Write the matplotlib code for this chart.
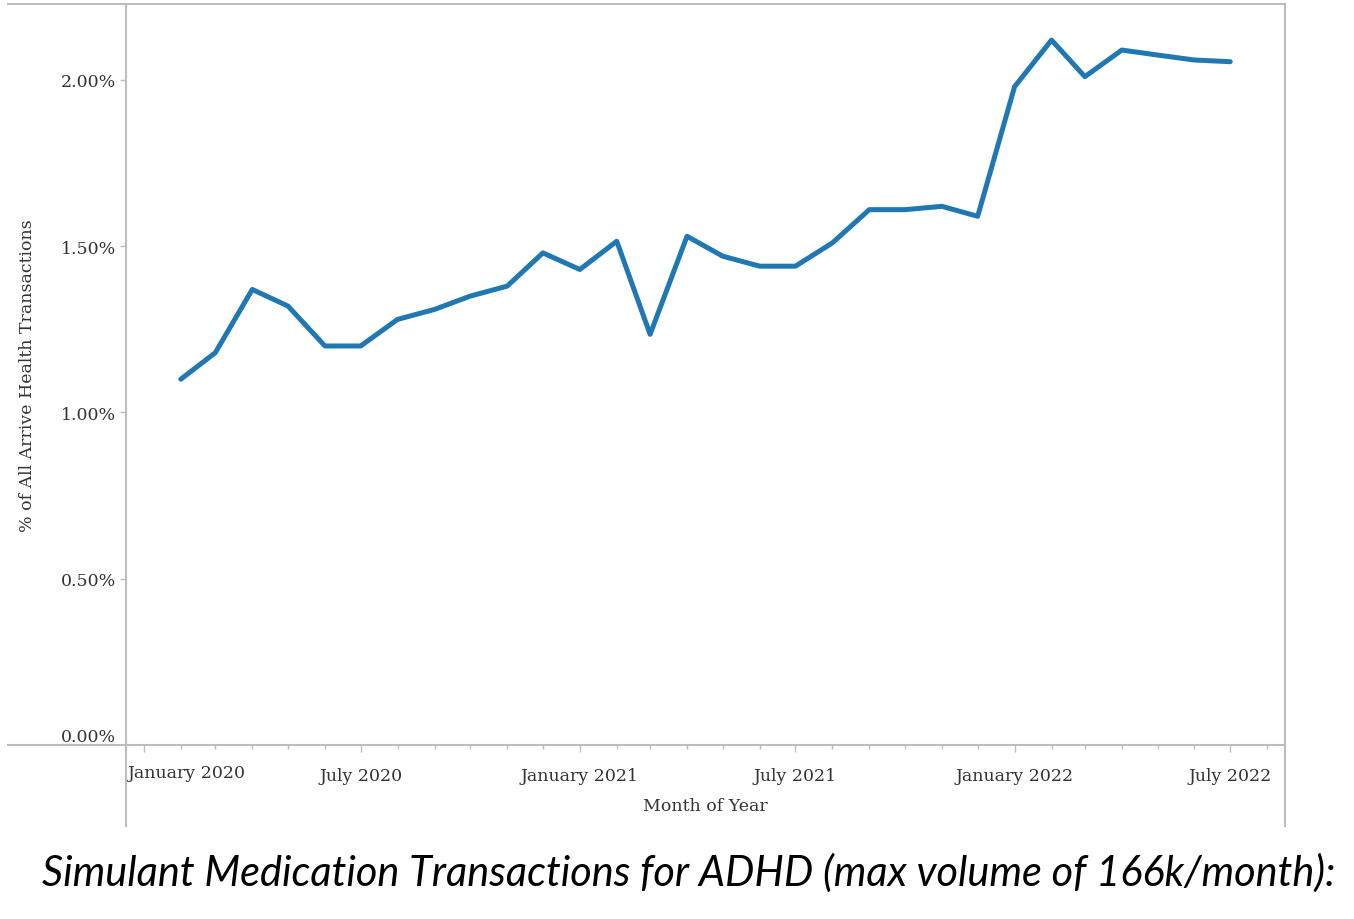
import matplotlib
matplotlib.use("Agg")
import matplotlib.pyplot as plt
from matplotlib.lines import Line2D
import datetime as dt

# ---------------- data ----------------
months = ["2020-02", "2020-03", "2020-04", "2020-05", "2020-06", "2020-07",
          "2020-08", "2020-09", "2020-10", "2020-11", "2020-12",
          "2021-01", "2021-02", "2021-03", "2021-04", "2021-05", "2021-06",
          "2021-07", "2021-08", "2021-09", "2021-10", "2021-11", "2021-12",
          "2022-01", "2022-02", "2022-03", "2022-04", "2022-05", "2022-06",
          "2022-07"]
pct_values = [1.10, 1.18, 1.37, 1.32, 1.20, 1.20,
              1.28, 1.31, 1.35, 1.38, 1.48,
              1.43, 1.515, 1.235, 1.53, 1.47, 1.44,
              1.44, 1.51, 1.61, 1.61, 1.62, 1.59,
              1.98, 2.12, 2.01, 2.09, 2.075, 2.06,
              2.055]
y_ticks = [0.0, 0.5, 1.0, 1.5, 2.0]
y_tick_labels = ["0.00%", "0.50%", "1.00%", "1.50%", "2.00%"]
x_label_dates = ["2020-01", "2020-07", "2021-01", "2021-07", "2022-01", "2022-07"]
x_tick_labels = ["January 2020", "July 2020", "January 2021", "July 2021",
                 "January 2022", "July 2022"]
y_title = "% of All Arrive Health Transactions"
x_title = "Month of Year"
caption = "Simulant Medication Transactions for ADHD (max volume of 166k/month):"

# ---------------- figure ----------------
W, H = 1354, 920
fig = plt.figure(figsize=(W / 100, H / 100), dpi=100)
fig.patch.set_facecolor("white")

def fx(px):
    return px / W

def fy(py):
    return 1 - py / H

L, R, T, B = 126, 1285, 5, 746
ax = fig.add_axes([fx(L), fy(B), fx(R) - fx(L), fy(T) - fy(B)])

def to_date(s):
    y, m = s.split("-")
    return dt.date(int(y), int(m), 1)

xd = [to_date(m) for m in months]
ax.plot(xd, pct_values, color="#1f77b4", lw=3.6, solid_joinstyle="round",
        solid_capstyle="round", zorder=3)

ax.set_xlim(dt.date(2019, 12, 17), dt.date(2022, 8, 16))
ax.set_ylim(0, 2.2285)

for s in ax.spines.values():
    s.set_visible(False)

grey = "#bdbdbd"
serif = "DejaVu Serif"
tcol = "#333333"
fs = 12.5

# y ticks
ax.set_yticks(y_ticks)
ax.set_yticklabels(y_tick_labels, fontsize=fs, family=serif, color=tcol)
ax.tick_params(axis="y", length=4, width=1, color=grey, pad=3)
lab0 = ax.get_yticklabels()[0]
lab0.set_va("bottom")
ax.yaxis.get_major_ticks()[0].tick1line.set_visible(False)

# x ticks
all_months = []
d = dt.date(2020, 1, 1)
while d <= dt.date(2022, 8, 1):
    all_months.append(d)
    d = dt.date(d.year + (d.month // 12), d.month % 12 + 1, 1)
ax.set_xticks(all_months, minor=True)
ax.set_xticks([to_date(s) for s in x_label_dates])
labels = list(x_tick_labels)
labels[0] = ""
ax.set_xticklabels(labels, fontsize=fs, family=serif, color=tcol)
ax.tick_params(axis="x", which="major", length=5, width=1, color=grey, pad=11)
ax.tick_params(axis="x", which="minor", length=3, width=1, color=grey)
ax.text(0.001, -0.0365, x_tick_labels[0], transform=ax.transAxes, ha="left",
        va="center", fontsize=fs, family=serif, color=tcol)

# frame lines in figure coordinates
lc = grey
lw = 1.5
fig.add_artist(Line2D([fx(8), fx(R)], [fy(T), fy(T)], color=lc, lw=lw))
fig.add_artist(Line2D([fx(8), fx(R)], [fy(B), fy(B)], color=lc, lw=lw))
fig.add_artist(Line2D([fx(L), fx(L)], [fy(T), fy(827)], color=lc, lw=lw))
fig.add_artist(Line2D([fx(R), fx(R)], [fy(T), fy(827)], color=lc, lw=lw))

# titles
fig.text(fx((L + R) / 2), fy(807), x_title, ha="center", va="center",
         fontsize=fs, family=serif, color=tcol)
fig.text(fx(28), fy((T + B) / 2), y_title, ha="center", va="center",
         rotation=90, fontsize=fs, family=serif, color=tcol)

# caption
cap = fig.text(fx(42), fy(873), caption, ha="left", va="center",
               fontsize=26, family="Lato", style="italic", color="black")
fig.canvas.draw()
r = fig.canvas.get_renderer()
wpx = cap.get_window_extent(r).width
cap.set_fontsize(26 * (1293 / wpx))

fig.savefig("out.png", dpi=100, facecolor="white")
